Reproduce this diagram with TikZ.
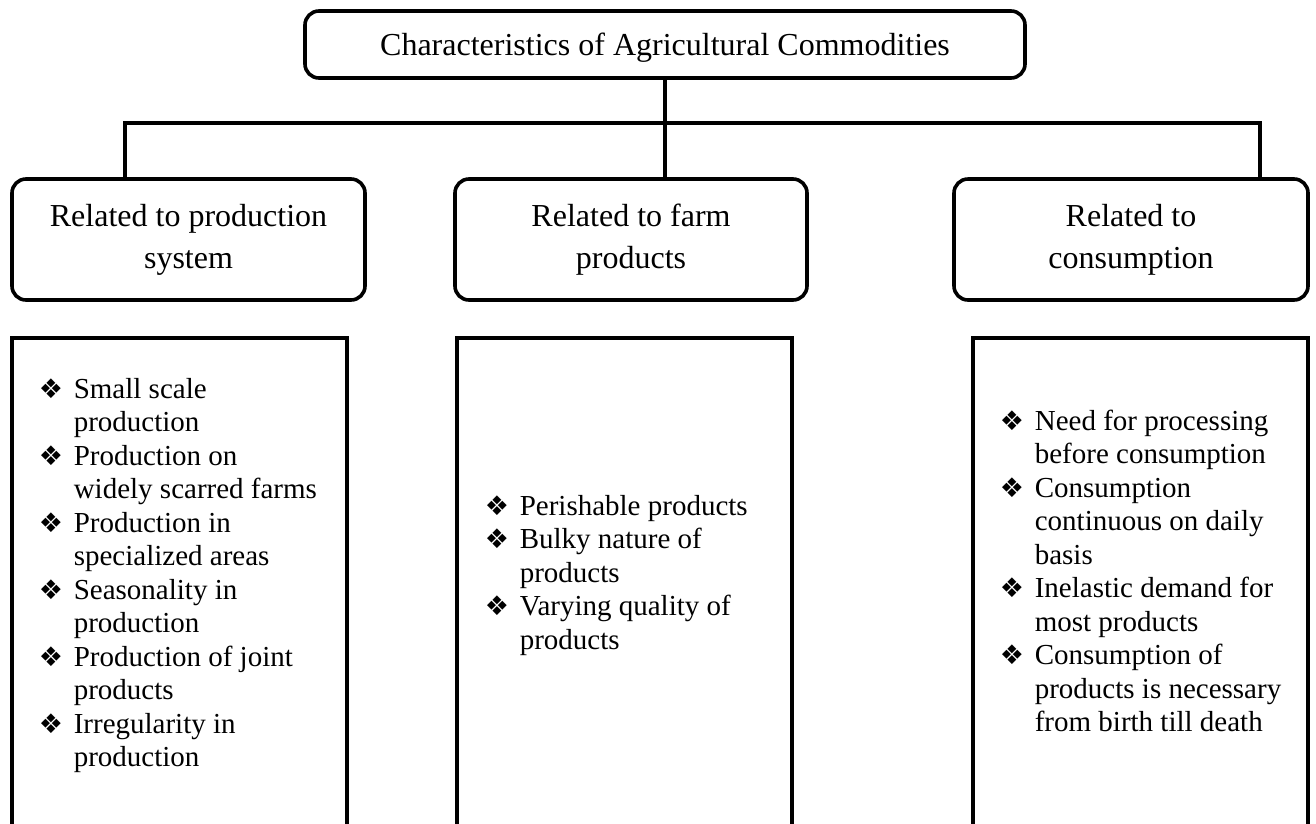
\documentclass[tikz,border=0pt]{standalone}
\usepackage{fontspec}
\setmainfont{Liberation Serif}
\newfontfamily\symfont{DejaVu Sans}
\newcommand\bul{\makebox[35pt][l]{\raisebox{0pt}{\symfont\fontsize{27}{27}\selectfont ❖}}}
\newcommand\cnt{\hspace*{35pt}}
\begin{document}
\begin{tikzpicture}[x=1pt,y=-1pt, line width=3.6pt,
  rbox/.style={draw, rounded corners=14pt, inner sep=0pt},
  pbox/.style={draw, inner sep=0pt, minimum width=335pt, minimum height=502pt},
  natsp/.style={execute at begin node={\spaceskip=\fontdimen2\font\relax\xspaceskip=\fontdimen2\font\relax}},
  head/.style={rbox, natsp, font=\fontsize{32}{42}\selectfont, align=center, text width=340pt, minimum height=121pt},
  listtext/.style={natsp, font=\fontsize{29}{33.5}\selectfont, align=left, text width=300pt, inner sep=0pt, anchor=base west}]
\useasboundingbox (0,0) rectangle (1316,823);
\fill[white] (0,0) rectangle (1316,823);
\clip (0,0) rectangle (1316,823);

% title
\node[rbox, minimum width=720pt, minimum height=67pt, font=\fontsize{32}{32}\selectfont, text height=22pt, text depth=1pt] (top) at (665,44.5) {Characteristics of Agricultural Commodities};

% level 2
\node[head, minimum width=353pt] (l2a) at (188.5,239.5) {Related to production\\system};
\node[head, minimum width=352pt] (l2b) at (631,239.5) {Related to farm\\products};
\node[head, minimum width=354pt] (l2c) at (1131,239.5) {Related to\\consumption};

% connectors
\coordinate (bl) at (125,123);
\coordinate (br) at (1260,123);
\draw (top.south) -- (top.south |- l2b.north);
\draw (bl |- l2a.north) -- (bl) -- (br) -- (br |- l2c.north);

% bottom boxes
\node[pbox] (b1) at (179.5,589) {};
\node[pbox] (b2) at (624.5,589) {};
\node[pbox] (b3) at (1140.5,589) {};

% lists
\node[listtext] (t1) at (37,398) {\bul Small scale\\\cnt production\\\bul Production on\\\cnt widely scarred farms\\\bul Production in\\\cnt specialized areas\\\bul Seasonality in\\\cnt production\\\bul Production of joint\\\cnt products\\\bul Irregularity in\\\cnt production};
\node[listtext] (t2) at (483,515) {\bul Perishable products\\\bul Bulky nature of\\\cnt products\\\bul Varying quality of\\\cnt products};
\node[listtext] (t3) at (998,430) {\bul Need for processing\\\cnt before consumption\\\bul Consumption\\\cnt continuous on daily\\\cnt basis\\\bul Inelastic demand for\\\cnt most products\\\bul Consumption of\\\cnt products is necessary\\\cnt from birth till death};
\end{tikzpicture}
\end{document}
